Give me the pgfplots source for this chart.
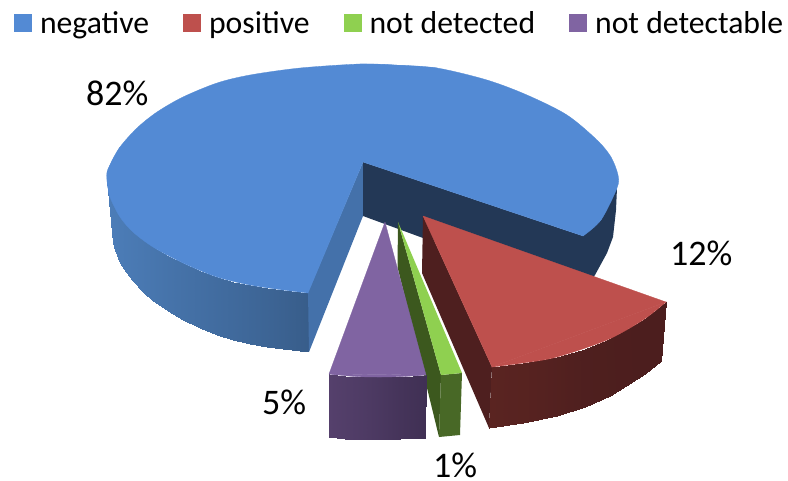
\documentclass[border=0pt]{standalone}
\usepackage{pgfplots}
\usepackage{fontspec}
\setmainfont{Carlito}
\pgfplotsset{compat=1.18}
\definecolor{cblue}{RGB}{83,138,212}
\definecolor{cbluecut}{RGB}{68,113,170}
\definecolor{cnavy}{RGB}{35,56,86}
\definecolor{cred}{RGB}{190,80,77}
\definecolor{cdred}{RGB}{78,31,31}
\definecolor{cgreen}{RGB}{143,208,80}
\definecolor{cdgreen}{RGB}{60,88,30}
\definecolor{cmgreen}{RGB}{72,104,38}
\definecolor{cpurple}{RGB}{128,100,162}
\begin{document}
\begin{tikzpicture}
\begin{axis}[
  scale only axis, width=788pt, height=480pt,
  xmin=0, xmax=788, ymin=0, ymax=480, y dir=reverse,
  axis line style={draw=none}, ticks=none, clip=true,
  colormap={pie}{rgb255=(76,125,184) rgb255=(56,93,138) rgb255=(85,64,108) rgb255=(64,48,84) rgb255=(90,36,33) rgb255=(76,30,30)},
  point meta min=0, point meta max=5,
  legend columns=-1,
  legend cell align=left,
  legend style={draw=none, fill=none, at={(axis cs:14,23)}, anchor=west, inner sep=0pt, outer sep=0pt,
    nodes={inner sep=0pt}, font=\fontsize{31.7}{32}\selectfont,
    /tikz/every even column/.append style={column sep=34pt},
    /tikz/every odd column/.append style={column sep=8pt},
    /tikz/column 6/.append style={column sep=31pt}},
  legend image code/.code={\fill[draw=none,#1] (0pt,-9pt) rectangle (18pt,9pt);},
]
% --- blue slice ---
\addplot[forget plot, surf, shader=interp, mesh/rows=2, point meta=explicit] table[meta=c]{
x y c
107 180 0
110 197 0.02
120 217 0.06
126 225 0.09
133 232 0.12
143 240 0.17
153 247 0.22
168 256 0.3
183 263 0.37
200 271 0.45
217 277 0.53
233 282 0.6
250 285 0.68
267 288 0.76
283 290 0.85
308 293 1
113 243 0
115 250 0.02
120 263 0.06
126 272 0.09
133 281 0.12
143 292 0.17
153 301 0.22
168 311 0.3
183 320 0.37
200 328 0.45
217 335 0.53
233 340 0.6
250 344 0.68
267 347 0.76
283 349 0.85
309 352 1
};
\addplot[forget plot, fill=cbluecut, draw=none] coordinates {(363,162) (363,216) (309,352) (308,292)} --cycle;
\addplot[forget plot, fill=cnavy, draw=none] coordinates {(363,162) (583,236) (601,220) (617,188) (616,210) (613,237) (607,253) (595,275) (590,282) (423,238) (363,216)} --cycle;
\addplot[forget plot, fill=cblue, draw=cblue, line width=0.3pt, line join=round] coordinates {(363,162) (308,293) (110,165) (394,65) (583,236)} --cycle;
\addplot[forget plot, fill=cblue, draw=cblue, line width=0.3pt, smooth] coordinates {(308,293) (283,290) (250,285) (217,277) (183,263) (153,247) (133,232) (120,217) (110,197) (107,180) (107,172) (110,165) (120,147)} --cycle;
\addplot[forget plot, fill=cblue, draw=cblue, line width=0.3pt, smooth] coordinates {(110,197) (107,180) (110,165) (120,147) (137,128) (157,112) (183,97) (217,83) (250,75) (300,68) (360,64) (394,65) (437,68)} --cycle;
\addplot[forget plot, fill=cblue, draw=cblue, line width=0.3pt, smooth] coordinates {(360,64) (394,65) (437,68) (487,80) (527,95) (567,115) (597,140) (611,157) (618,175) (617,188) (601,220) (583,236)} --cycle;
% --- red slice ---
\addplot[forget plot, fill=cdred, draw=none] coordinates {(423,216) (422,273) (489,428) (492,367)} --cycle;
\addplot[forget plot, surf, shader=interp, mesh/rows=2, point meta=explicit] table[meta=c]{
x y c
492 367 4
523 363 4.2
557 357 4.5
585 349 4.8
607 340 4.9
643 320 5
666 302 5
489 428 4
523 423 4.2
557 416 4.5
585 407 4.8
610 396 4.9
645 374 5
661 361 5
};
\addplot[forget plot, fill=cred, draw=cred, line width=0.3pt, line join=round] coordinates {(423,216) (666,302) (492,367)} --cycle;
\addplot[forget plot, fill=cred, draw=cred, line width=0.3pt, smooth] coordinates {(666,302) (643,320) (607,340) (557,357) (523,363) (492,367)} --cycle;
% --- green slice ---
\addplot[forget plot, fill=cdgreen, draw=none] coordinates {(398,222) (441,375) (439,437) (397.5,267)} --cycle;
\addplot[forget plot, fill=cmgreen, draw=none] coordinates {(441,375) (462,373) (460,435) (439,437)} --cycle;
\addplot[forget plot, fill=cgreen, draw=none] coordinates {(398,222) (462,373) (441,375)} --cycle;
% --- purple slice ---
\addplot[forget plot, surf, shader=interp, mesh/rows=2, point meta=explicit] table[meta=c]{
x y c
329 374 2
345 376 2.15
362 377 2.3
380 377 2.5
400 376.5 2.75
426 375 3
329.5 437 2
345 438.5 2.15
362 439 2.3
380 439 2.5
400 438.5 2.75
425 438 3
};
\addplot[forget plot, fill=cpurple, draw=cpurple, line width=0.3pt, line join=round] coordinates {(385,222) (426,375) (329,374)} --cycle;
\addplot[forget plot, fill=cpurple, draw=cpurple, line width=0.3pt, smooth] coordinates {(426,375) (403,376.5) (380,377) (355,376.5) (329,374)} --cycle;
% --- legend ---
\addlegendimage{fill=cblue}\addlegendentry{negative}
\addlegendimage{fill=cred}\addlegendentry{positive}
\addlegendimage{fill=cgreen}\addlegendentry{not detected}
\addlegendimage{fill=cpurple}\addlegendentry{not detectable}
% --- labels ---
\node[anchor=base west, inner sep=0pt, font=\fontsize{36}{36}\selectfont] at (axis cs:86,105) {82\%};
\node[anchor=base west, inner sep=0pt, font=\fontsize{36}{36}\selectfont] at (axis cs:670,265) {12\%};
\node[anchor=base west, inner sep=0pt, font=\fontsize{36}{36}\selectfont] at (axis cs:262,414) {5\%};
\node[anchor=base west, inner sep=0pt, font=\fontsize{36}{36}\selectfont] at (axis cs:433,477) {1\%};
\end{axis}
\end{tikzpicture}
\end{document}
